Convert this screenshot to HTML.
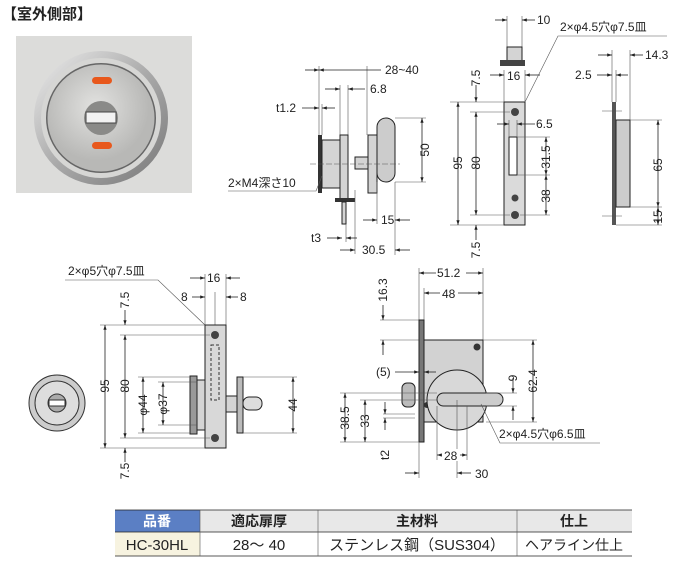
<!DOCTYPE html>
<html><head><meta charset="utf-8"><style>
body{margin:0;background:#fff;width:691px;height:570px;overflow:hidden}
svg{position:absolute;left:0;top:0}
text{font-family:"Liberation Sans","Noto Sans CJK JP",sans-serif;font-size:12px;fill:#222}
.l{stroke:#222;stroke-width:.8;fill:none}
.t{stroke:#555;stroke-width:.6;fill:none}
.g{fill:#d4d4d4;stroke:#222;stroke-width:1}
</style></head><body>
<svg width="691" height="570" viewBox="0 0 691 570">
<defs>
<marker id="a" viewBox="0 0 6 6" refX="6" refY="3" markerWidth="6" markerHeight="6" orient="auto-start-reverse"><path d="M0,1 L6,3 L0,5z" fill="#222"/></marker>
<radialGradient id="rg" cx="45%" cy="40%"><stop offset="0" stop-color="#e2e2e0"/><stop offset="1" stop-color="#b8b8b6"/></radialGradient>
<linearGradient id="ring" x1="0" y1="0" x2="1" y2="1"><stop offset="0" stop-color="#eee"/><stop offset="0.5" stop-color="#aaa"/><stop offset="1" stop-color="#777"/></linearGradient>
</defs>
<text x="2" y="19" style="font-size:15px;font-weight:bold">【室外側部】</text>
<rect x="16" y="36" width="176" height="157" fill="#dcdcda"/>
<circle cx="101" cy="118" r="67" fill="url(#ring)"/>
<circle cx="101" cy="118" r="60" fill="#d6d6d4"/>
<circle cx="101" cy="118" r="55" fill="#666"/>
<circle cx="101" cy="118" r="53.5" fill="url(#rg)"/>
<circle cx="101" cy="118" r="17" fill="#8a8a88"/>
<rect x="86" y="112" width="30" height="11" fill="#f2f2f2" stroke="#444"/>
<rect x="92" y="77" width="20" height="7" rx="3.5" fill="#e8581c"/>
<rect x="92" y="142" width="20" height="7" rx="3.5" fill="#e8581c"/>

<!-- side view -->
<g>
<line class="t" x1="319" y1="66" x2="319" y2="135"/><line class="t" x1="367" y1="66" x2="367" y2="135"/>
<line class="l" x1="305" y1="70" x2="319" y2="70" marker-end="url(#a)"/><line class="l" x1="319" y1="70" x2="381" y2="70" marker-start="url(#a)"/>
<text x="385" y="74">28~40</text>
<line class="t" x1="340" y1="85" x2="340" y2="140"/><line class="t" x1="348" y1="85" x2="348" y2="135"/>
<line class="l" x1="325" y1="89" x2="340" y2="89" marker-end="url(#a)"/><line class="l" x1="348" y1="89" x2="365" y2="89" marker-start="url(#a)"/>
<text x="370" y="93">6.8</text>
<line class="t" x1="322" y1="104" x2="322" y2="135"/>
<line class="l" x1="302" y1="108" x2="319" y2="108" marker-end="url(#a)"/><line class="l" x1="322" y1="108" x2="335" y2="108" marker-start="url(#a)"/>
<text x="276" y="112">t1.2</text>
<rect x="318" y="135" width="4" height="58" fill="#333"/>
<rect x="322" y="140" width="18" height="48" class="g"/>
<rect x="340" y="135" width="8" height="65" class="g"/>
<rect x="368" y="135" width="9" height="58" class="g"/>
<rect x="355" y="157" width="13" height="12" class="g"/>
<rect x="377" y="118" width="18" height="64" rx="9" fill="#ccc" stroke="#222"/>
<line class="t" x1="310" y1="164" x2="400" y2="164" stroke-dasharray="6,2"/>
<rect x="335" y="198" width="20" height="4" fill="#333"/>
<rect x="342" y="202" width="4" height="22" class="g"/>
<line class="t" x1="395" y1="118" x2="426" y2="118"/><line class="t" x1="395" y1="182" x2="426" y2="182"/>
<line class="l" x1="422" y1="118" x2="422" y2="182" marker-start="url(#a)" marker-end="url(#a)"/>
<text transform="translate(429,150) rotate(-90)" text-anchor="middle">50</text>
<text x="228" y="187">2×M4深さ10</text>
<polyline class="t" points="228,191 316,191 322,176"/>
<line class="t" x1="377" y1="182" x2="377" y2="224"/><line class="t" x1="395" y1="182" x2="395" y2="255"/>
<line class="l" x1="363" y1="220" x2="377" y2="220" marker-end="url(#a)"/><line class="l" x1="395" y1="220" x2="410" y2="220" marker-start="url(#a)"/>
<text x="381" y="224">15</text>
<line class="t" x1="346" y1="224" x2="346" y2="242"/><line class="t" x1="355" y1="190" x2="355" y2="254"/>
<line class="l" x1="327" y1="238" x2="342" y2="238" marker-end="url(#a)"/><line class="l" x1="346" y1="238" x2="357" y2="238" marker-start="url(#a)"/>
<text x="311" y="242">t3</text>
<line class="l" x1="340" y1="250" x2="355" y2="250" marker-end="url(#a)"/><line class="l" x1="395" y1="250" x2="410" y2="250" marker-start="url(#a)"/>
<text x="362" y="254">30.5</text>
</g>

<!-- strike plate -->
<g>
<line class="t" x1="507" y1="16" x2="507" y2="47"/><line class="t" x1="522" y1="16" x2="522" y2="47"/>
<line class="l" x1="495" y1="20" x2="507" y2="20" marker-end="url(#a)"/><line class="l" x1="522" y1="20" x2="535" y2="20" marker-start="url(#a)"/>
<text x="537" y="24">10</text>
<rect x="507" y="47" width="15" height="14" class="g"/>
<rect x="500" y="60" width="25" height="6" fill="#444"/>
<line class="t" x1="504" y1="70" x2="504" y2="102"/><line class="t" x1="525" y1="70" x2="525" y2="102"/>
<line class="l" x1="490" y1="75" x2="504" y2="75" marker-end="url(#a)"/><line class="l" x1="525" y1="75" x2="540" y2="75" marker-start="url(#a)"/>
<text x="507" y="80">16</text>
<rect x="504" y="102" width="21" height="123" fill="#dadada" stroke="#222"/>
<circle cx="515" cy="112" r="4" fill="#444"/><circle cx="515" cy="198" r="3.5" fill="#444"/><circle cx="515" cy="215" r="4" fill="#444"/>
<rect x="509" y="137" width="8" height="38" fill="#fff" stroke="#222"/>
<line class="t" x1="450" y1="102" x2="504" y2="102"/><line class="t" x1="470" y1="112" x2="510" y2="112"/>
<line class="t" x1="450" y1="225" x2="504" y2="225"/><line class="t" x1="470" y1="215" x2="510" y2="215"/>
<line class="l" x1="458" y1="102" x2="458" y2="225" marker-start="url(#a)" marker-end="url(#a)"/>
<text transform="translate(462,163) rotate(-90)" text-anchor="middle">95</text>
<line class="l" x1="476" y1="112" x2="476" y2="215" marker-start="url(#a)" marker-end="url(#a)"/>
<text transform="translate(480,163) rotate(-90)" text-anchor="middle">80</text>
<line class="l" x1="476" y1="85" x2="476" y2="102" marker-end="url(#a)"/>
<text transform="translate(480,78) rotate(-90)" text-anchor="middle">7.5</text>
<line class="l" x1="476" y1="240" x2="476" y2="225" marker-end="url(#a)"/>
<text transform="translate(480,250) rotate(-90)" text-anchor="middle">7.5</text>
<line class="t" x1="509" y1="120" x2="509" y2="137"/><line class="t" x1="517" y1="120" x2="517" y2="137"/>
<line class="l" x1="497" y1="124" x2="509" y2="124" marker-end="url(#a)"/><line class="l" x1="517" y1="124" x2="535" y2="124" marker-start="url(#a)"/>
<text x="536" y="128">6.5</text>
<line class="t" x1="517" y1="137" x2="550" y2="137"/><line class="t" x1="517" y1="175" x2="550" y2="175"/><line class="t" x1="520" y1="215" x2="550" y2="215"/>
<line class="l" x1="546" y1="137" x2="546" y2="175" marker-start="url(#a)" marker-end="url(#a)"/>
<text transform="translate(550,157) rotate(-90)" text-anchor="middle">31.5</text>
<line class="l" x1="546" y1="175" x2="546" y2="215" marker-start="url(#a)" marker-end="url(#a)"/>
<text transform="translate(550,196) rotate(-90)" text-anchor="middle">38</text>
<text x="560" y="31">2×φ4.5穴φ7.5皿</text>
<polyline class="t" points="667,36 558,36 525,102"/>
<rect x="612" y="102" width="4" height="123" fill="#555"/>
<rect x="616" y="120" width="14" height="87" fill="#ccc" stroke="#222"/>
<line class="t" x1="612" y1="50" x2="612" y2="102"/><line class="t" x1="630" y1="50" x2="630" y2="120"/><line class="t" x1="616" y1="70" x2="616" y2="102"/>
<line class="l" x1="598" y1="55" x2="612" y2="55" marker-end="url(#a)"/><line class="l" x1="630" y1="55" x2="643" y2="55" marker-start="url(#a)"/>
<text x="645" y="59">14.3</text>
<line class="l" x1="597" y1="75" x2="612" y2="75" marker-end="url(#a)"/><line class="l" x1="616" y1="75" x2="628" y2="75" marker-start="url(#a)"/>
<text x="575" y="79">2.5</text>
<line class="t" x1="630" y1="120" x2="662" y2="120"/><line class="t" x1="630" y1="207" x2="662" y2="207"/><line class="t" x1="616" y1="225" x2="662" y2="225"/>
<line class="l" x1="658" y1="120" x2="658" y2="207" marker-start="url(#a)" marker-end="url(#a)"/>
<text transform="translate(662,165) rotate(-90)" text-anchor="middle">65</text>
<line class="l" x1="658" y1="207" x2="658" y2="225" marker-start="url(#a)" marker-end="url(#a)"/>
<text transform="translate(662,217) rotate(-90)" text-anchor="middle">15</text>
<line class="t" x1="602" y1="111" x2="622" y2="111"/><line class="t" x1="602" y1="216" x2="622" y2="216"/>
</g>

<!-- bottom left -->
<g>
<circle cx="57" cy="403" r="28" fill="#ccc" stroke="#333"/>
<circle cx="57" cy="403" r="22" fill="#ddd" stroke="#333"/>
<circle cx="57" cy="403" r="9" fill="#aaa" stroke="#333"/>
<rect x="49" y="400" width="16" height="6" fill="#fff" stroke="#333"/>
<text x="68" y="275">2×φ5穴φ7.5皿</text>
<polyline class="t" points="65,280 158,280 205,325"/>
<line class="t" x1="205" y1="274" x2="205" y2="325"/><line class="t" x1="226" y1="274" x2="226" y2="325"/><line class="t" x1="215" y1="292" x2="215" y2="325"/>
<line class="l" x1="190" y1="278" x2="205" y2="278" marker-end="url(#a)"/><line class="l" x1="226" y1="278" x2="240" y2="278" marker-start="url(#a)"/>
<text x="207" y="282">16</text>
<line class="l" x1="192" y1="297" x2="205" y2="297" marker-end="url(#a)"/><line class="l" x1="226" y1="297" x2="238" y2="297" marker-start="url(#a)"/>
<text x="181" y="301">8</text><text x="240" y="301">8</text>
<rect x="205" y="325" width="21" height="123" fill="#d8d8d8" stroke="#222"/>
<circle cx="215" cy="335" r="4" fill="#444"/><circle cx="215" cy="438" r="4" fill="#444"/>
<rect x="211" y="345" width="8" height="55" fill="none" stroke="#333" stroke-dasharray="3,2"/>
<line class="t" x1="100" y1="325" x2="205" y2="325"/><line class="t" x1="120" y1="335" x2="210" y2="335"/>
<line class="t" x1="100" y1="448" x2="205" y2="448"/><line class="t" x1="120" y1="438" x2="210" y2="438"/>
<line class="l" x1="105" y1="325" x2="105" y2="448" marker-start="url(#a)" marker-end="url(#a)"/>
<text transform="translate(109,386) rotate(-90)" text-anchor="middle">95</text>
<line class="l" x1="125" y1="335" x2="125" y2="438" marker-start="url(#a)" marker-end="url(#a)"/>
<text transform="translate(129,386) rotate(-90)" text-anchor="middle">80</text>
<line class="l" x1="125" y1="310" x2="125" y2="325" marker-end="url(#a)"/>
<text transform="translate(129,300) rotate(-90)" text-anchor="middle">7.5</text>
<line class="l" x1="125" y1="462" x2="125" y2="448" marker-end="url(#a)"/>
<text transform="translate(129,471) rotate(-90)" text-anchor="middle">7.5</text>
<rect x="190" y="376" width="7" height="58" fill="#999" stroke="#222"/>
<rect x="197" y="380" width="8" height="50" class="g"/>
<line class="t" x1="138" y1="377" x2="190" y2="377"/><line class="t" x1="138" y1="433" x2="190" y2="433"/>
<line class="t" x1="158" y1="382" x2="197" y2="382"/><line class="t" x1="158" y1="425" x2="197" y2="425"/>
<line class="l" x1="143" y1="377" x2="143" y2="433" marker-start="url(#a)" marker-end="url(#a)"/>
<text transform="translate(147,405) rotate(-90)" text-anchor="middle">φ44</text>
<line class="l" x1="163" y1="382" x2="163" y2="425" marker-start="url(#a)" marker-end="url(#a)"/>
<text transform="translate(167,404) rotate(-90)" text-anchor="middle">φ37</text>
<rect x="226" y="396" width="11" height="16" class="g"/>
<rect x="237" y="377" width="6" height="56" fill="#bbb" stroke="#222"/>
<rect x="243" y="397" width="19" height="13" rx="6" fill="#ddd" stroke="#222"/>
<line class="t" x1="243" y1="377" x2="297" y2="377"/><line class="t" x1="243" y1="433" x2="297" y2="433"/>
<line class="l" x1="293" y1="377" x2="293" y2="433" marker-start="url(#a)" marker-end="url(#a)"/>
<text transform="translate(297,405) rotate(-90)" text-anchor="middle">44</text>
</g>

<!-- bottom right -->
<g>
<line class="t" x1="419" y1="268" x2="419" y2="320"/><line class="t" x1="483" y1="268" x2="483" y2="340"/><line class="t" x1="424" y1="288" x2="424" y2="340"/>
<line class="l" x1="419" y1="273" x2="483" y2="273" marker-start="url(#a)" marker-end="url(#a)"/>
<rect x="436" y="266" width="30" height="12" fill="#fff"/><text x="437" y="277">51.2</text>
<line class="l" x1="424" y1="293" x2="483" y2="293" marker-start="url(#a)" marker-end="url(#a)"/>
<rect x="440" y="287" width="18" height="12" fill="#fff"/><text x="442" y="298">48</text>
<line class="t" x1="380" y1="320" x2="419" y2="320"/><line class="t" x1="380" y1="340" x2="424" y2="340"/>
<line class="l" x1="383" y1="305" x2="383" y2="320" marker-end="url(#a)"/>
<line class="l" x1="383" y1="355" x2="383" y2="340" marker-end="url(#a)"/>
<text transform="translate(387,290) rotate(-90)" text-anchor="middle">16.3</text>
<rect x="424" y="340" width="59" height="82" fill="#d2d2d2" stroke="#222"/>
<rect x="419" y="320" width="5" height="122" fill="#777" stroke="#222"/>
<circle cx="477" cy="347" r="3.5" fill="#333"/><circle cx="427" cy="405" r="3" fill="#333"/>
<circle cx="457" cy="400" r="30" fill="#d8d8d8" stroke="#222"/>
<rect x="437" y="393" width="66" height="13" rx="6.5" fill="#ccc" stroke="#222"/>
<rect x="402" y="383" width="13" height="24" rx="5" fill="#bbb" stroke="#222"/>
<line class="l" x1="395" y1="372" x2="419" y2="372" marker-end="url(#a)"/><line class="l" x1="424" y1="372" x2="436" y2="372" marker-start="url(#a)"/>
<text x="376" y="376">(5)</text>
<line class="t" x1="340" y1="393" x2="437" y2="393"/><line class="t" x1="360" y1="400" x2="437" y2="400"/><line class="t" x1="340" y1="442" x2="419" y2="442"/>
<line class="l" x1="345" y1="393" x2="345" y2="442" marker-start="url(#a)" marker-end="url(#a)"/>
<text transform="translate(349,418) rotate(-90)" text-anchor="middle">38.5</text>
<line class="l" x1="365" y1="400" x2="365" y2="442" marker-start="url(#a)" marker-end="url(#a)"/>
<text transform="translate(369,421) rotate(-90)" text-anchor="middle">33</text>
<line class="t" x1="383" y1="414" x2="415" y2="414"/><line class="t" x1="383" y1="418" x2="415" y2="418"/>
<line class="l" x1="385" y1="402" x2="385" y2="414" marker-end="url(#a)"/><line class="l" x1="385" y1="430" x2="385" y2="418" marker-end="url(#a)"/>
<text transform="translate(389,455) rotate(-90)" text-anchor="middle">t2</text>
<line class="t" x1="486" y1="393" x2="517" y2="393"/><line class="t" x1="486" y1="406" x2="517" y2="406"/>
<line class="l" x1="513" y1="378" x2="513" y2="393" marker-end="url(#a)"/><line class="l" x1="513" y1="420" x2="513" y2="406" marker-end="url(#a)"/>
<text transform="translate(517,378) rotate(-90)" text-anchor="middle">9</text>
<line class="t" x1="483" y1="340" x2="537" y2="340"/><line class="t" x1="486" y1="422" x2="537" y2="422"/>
<line class="l" x1="533" y1="340" x2="533" y2="422" marker-start="url(#a)" marker-end="url(#a)"/>
<text transform="translate(537,381) rotate(-90)" text-anchor="middle">62.4</text>
<text x="499" y="438">2×φ4.5穴φ6.5皿</text>
<polyline class="t" points="600,443 500,443 481,404"/>
<line class="t" x1="437" y1="406" x2="437" y2="460"/><line class="t" x1="467" y1="406" x2="467" y2="460"/><line class="t" x1="419" y1="442" x2="419" y2="478"/><line class="t" x1="457" y1="400" x2="457" y2="478"/>
<line class="l" x1="437" y1="455" x2="467" y2="455" marker-start="url(#a)" marker-end="url(#a)"/>
<rect x="442" y="449" width="18" height="12" fill="#fff"/><text x="444" y="460">28</text>
<line class="l" x1="405" y1="473" x2="419" y2="473" marker-end="url(#a)"/><line class="l" x1="471" y1="473" x2="457" y2="473" marker-end="url(#a)"/>
<text x="475" y="478">30</text>
</g>

<!-- table -->
<g>
<rect x="115" y="510" width="85" height="22" fill="#5b7fc4"/>
<rect x="200" y="510" width="432" height="22" fill="#e8e8e8"/>
<rect x="115" y="532" width="85" height="24" fill="#f7f3e0"/>
<line class="l" x1="115" y1="510" x2="632" y2="510" stroke-width="1.2"/>
<line class="l" x1="115" y1="532" x2="632" y2="532"/>
<line class="l" x1="115" y1="556" x2="632" y2="556" stroke-width="1.2"/>
<line class="t" x1="200" y1="510" x2="200" y2="556"/><line class="t" x1="318" y1="510" x2="318" y2="556"/><line class="t" x1="517" y1="510" x2="517" y2="556"/>
<text x="157" y="526" text-anchor="middle" style="font-size:14px;font-weight:bold;fill:#fff">品番</text>
<text x="259" y="526" text-anchor="middle" style="font-size:14px;font-weight:bold">適応扉厚</text>
<text x="417" y="526" text-anchor="middle" style="font-size:14px;font-weight:bold">主材料</text>
<text x="574" y="526" text-anchor="middle" style="font-size:14px;font-weight:bold">仕上</text>
<text x="157" y="550" text-anchor="middle" style="font-size:15px">HC-30HL</text>
<text x="259" y="550" text-anchor="middle" style="font-size:15px">28～ 40</text>
<text x="417" y="550" text-anchor="middle" style="font-size:15px">ステンレス鋼（SUS304）</text>
<text x="574" y="550" text-anchor="middle" style="font-size:14px">ヘアライン仕上</text>
</g>
</svg>
</body></html>
